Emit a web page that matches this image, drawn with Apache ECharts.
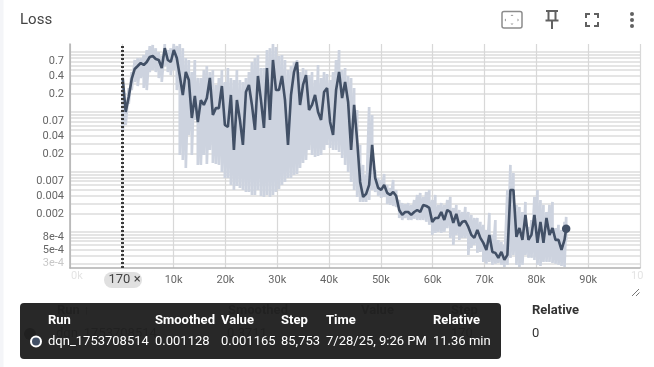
<!DOCTYPE html>
<html>
<head>
<meta charset="utf-8">
<style>html,body{margin:0;padding:0;background:#fff}#c{width:654px;height:367px}</style>
<script src="https://cdn.jsdelivr.net/npm/echarts@6/dist/echarts.min.js"></script>
</head>
<body>
<div id="c"></div>
<script>
const title = 'Loss';
const steps = [170,750,1330,1910,2490,3070,3650,4230,4810,5390,
5970,6550,7130,7710,8290,8870,9450,10030,10610,11190,
11770,12350,12930,13510,14090,14670,15250,15830,16410,16990,
17570,18150,18730,19310,19890,20470,21050,21630,22210,22790,
23370,23950,24530,25110,25690,26270,26850,27430,28010,28590,
29170,29750,30330,30910,31490,32070,32650,33230,33810,34390,
34970,35550,36130,36710,37290,37870,38450,39030,39610,40190,
40770,41350,41930,42510,43090,43670,44250,44830,45410,45990,
46570,47150,47730,48310,48890,49470,50050,50630,51210,51790,
52370,52950,53530,54110,54690,55270,55850,56430,57010,57590,
58170,58750,59330,59910,60490,61070,61650,62230,62810,63390,
63970,64550,65130,65710,66290,66870,67450,68030,68610,69190,
69770,70350,70930,71510,72090,72670,73250,73830,74410,74990,
75570,76150,76730,77310,77890,78470,79050,79630,80210,80790,
81370,81950,82530,83110,83690,84270,84850,85430,85753];
const smoothed = [0.3711,0.1,0.178,0.355,0.521,0.584,0.656,0.607,0.681,0.825,
0.858,0.765,0.736,0.541,1.16,0.736,0.681,1.08,0.794,0.398,
0.192,0.464,0.341,0.0794,0.185,0.0681,0.158,0.131,0.171,0.369,
0.0891,0.116,0.116,0.271,0.0607,0.0562,0.192,0.0232,0.158,0.0736,
0.0282,0.215,0.282,0.131,0.0501,0.398,0.158,0.0541,0.541,0.0736,
0.736,0.232,0.232,0.398,0.158,0.0282,0.192,0.464,0.681,0.131,
0.282,0.413,0.108,0.131,0.192,0.1,0.0736,0.215,0.251,0.0681,
0.0413,0.232,0.464,0.171,0.316,0.147,0.0232,0.131,0.0341,0.00681,
0.00383,0.0043,0.00607,0.0282,0.00794,0.00541,0.00501,0.00607,0.00447,0.00413,
0.00464,0.00398,0.00232,0.00192,0.00215,0.00215,0.00192,0.00215,0.00232,0.00215,
0.00282,0.00271,0.00251,0.00147,0.00171,0.00171,0.00215,0.00158,0.00232,0.00215,
0.00141,0.002,0.00126,0.00147,0.00152,0.00121,0.000891,0.000794,0.00108,0.000794,
0.000656,0.000501,0.000891,0.000464,0.000447,0.000369,0.000464,0.000341,0.000413,0.00501,
0.00501,0.000825,0.00116,0.000736,0.00192,0.000736,0.000891,0.00192,0.000656,0.00147,
0.000656,0.00171,0.000891,0.00116,0.000736,0.000736,0.000501,0.000736,0.001128];
const rawHigh = [0.369,0.158,0.251,0.464,0.736,0.794,0.794,0.891,1.08,1.26,
1.31,1.16,1.0,0.858,1.36,1.08,1.16,1.36,1.26,1.36,
1.16,0.794,0.736,0.464,0.736,0.369,0.369,0.501,0.584,0.464,
0.501,0.282,0.369,0.501,0.316,0.541,0.369,0.341,0.501,0.341,
0.316,0.369,0.464,0.681,0.794,0.891,0.541,0.541,1.08,1.16,
1.36,1.21,0.858,0.891,0.736,0.501,0.584,0.681,0.736,0.464,
0.541,0.501,0.413,0.464,0.341,0.607,0.369,0.464,0.43,0.341,
0.464,0.736,1.08,0.501,0.541,0.398,0.369,0.251,0.108,0.0282,
0.0131,0.00891,0.121,0.0891,0.0108,0.00794,0.00736,0.00926,0.00607,0.00541,
0.00736,0.00501,0.00341,0.00304,0.00293,0.00304,0.00282,0.00341,0.00413,0.00447,
0.00383,0.00464,0.00501,0.00341,0.00413,0.00282,0.00304,0.00282,0.00341,0.00383,
0.00251,0.00282,0.00232,0.00215,0.00261,0.00215,0.00192,0.00171,0.00171,0.00147,
0.00131,0.00108,0.00207,0.000891,0.00158,0.000736,0.000681,0.000607,0.00501,0.0131,
0.00962,0.00282,0.00261,0.00215,0.00316,0.00121,0.00158,0.00383,0.00501,0.00341,
0.00282,0.00215,0.00282,0.00316,0.00116,0.00131,0.00108,0.00147,0.00178];
const rawLow = [0.0483,0.0607,0.136,0.232,0.316,0.271,0.369,0.251,0.232,0.464,
0.501,0.464,0.369,0.316,0.584,0.464,0.413,0.501,0.232,0.0192,
0.0158,0.0116,0.0413,0.0192,0.0736,0.0131,0.0131,0.0192,0.0136,0.0232,
0.0141,0.0136,0.0131,0.01,0.00794,0.00794,0.00607,0.00501,0.00584,0.00541,
0.00501,0.00464,0.00464,0.00413,0.00413,0.00501,0.00398,0.00383,0.00413,0.00383,
0.00413,0.00464,0.00521,0.00607,0.00681,0.00794,0.00794,0.00891,0.00926,0.0116,
0.0141,0.0158,0.0232,0.0192,0.0178,0.0185,0.0192,0.0232,0.0282,0.0251,
0.0232,0.0232,0.0215,0.0171,0.0131,0.01,0.00681,0.00501,0.00383,0.00316,
0.00316,0.00316,0.00341,0.00501,0.00464,0.00398,0.00369,0.00383,0.00293,0.00282,
0.00271,0.00261,0.00171,0.00158,0.00171,0.00158,0.00158,0.00165,0.00158,0.00158,
0.00158,0.00147,0.00131,0.000891,0.000962,0.001,0.000962,0.001,0.00116,0.000794,
0.000607,0.000891,0.000736,0.000794,0.000794,0.000413,0.000541,0.000607,0.000447,0.000464,
0.000316,0.000293,0.000316,0.000282,0.000293,0.000304,0.000282,0.000261,0.000282,0.000369,
0.000413,0.000282,0.000261,0.000282,0.000413,0.000369,0.000369,0.000341,0.000282,0.000271,
0.000316,0.000316,0.000316,0.000304,0.000293,0.000282,0.000271,0.000261,0.000736];
const yLabelValues = [0.7,0.4,0.2,0.07,0.04,0.02,0.007,0.004,0.002,0.0008,0.0005,0.0003];
const yLabelTexts = ['0.7','0.4','0.2','0.07','0.04','0.02','0.007','0.004','0.002','8e-4','5e-4','3e-4'];
const yGridValues = [1,0.9,0.8,0.7,0.6,0.5,0.4,0.3,0.2,0.1,0.09,0.08,0.07,0.06,0.05,0.04,0.03,0.02,0.01,0.009,0.008,0.007,0.006,0.005,0.004,0.003,0.002,0.001,0.0009,0.0008,0.0007,0.0006,0.0005,0.0004,0.0003];
const selectedStep = 170;
const tableHead = ['Run','Smoothed','Value','Step','Time','Relative'];
const tableRow = ['dqn_1753708514','0.001128','0.001165','85,753','7/28/25, 9:26 PM','11.36 min'];
const tableX = [48,155,221,281,326,433];

const FONT='Roboto';
const rawPath=[];
steps.forEach((s,i)=>{ rawPath.push([s,rawHigh[i]],[s,rawLow[i]]); });

const txt=(x,y,t,o)=>({type:'text',x,y,silent:true,z:o.z||10,style:Object.assign({text:t,font:(o.weight||'400')+' '+(o.size||13)+'px '+FONT,fill:o.fill||'#212121',textVerticalAlign:'middle',textAlign:o.align||'left',opacity:o.opacity==null?1:o.opacity})});
const ln=(x1,y1,x2,y2,c,w)=>({type:'line',z:10,silent:true,shape:{x1,y1,x2,y2},style:{stroke:c,lineWidth:w}});

const graphics=[
 {type:'rect',z:1,silent:true,shape:{x:0,y:0,width:3.5,height:367},style:{fill:'#f4f5f8'}},
 txt(20,20.5,title,{size:15,fill:'#444'}),
 {type:'rect',z:10,silent:true,shape:{x:502,y:11.5,width:20,height:16.5,r:2},style:{fill:'none',stroke:'#8c8c8c',lineWidth:1.5}},
 {type:'polygon',z:10,silent:true,shape:{points:[[512,14.5],[510.5,16],[513.5,16]]},style:{fill:'#999'}},
 {type:'polygon',z:10,silent:true,shape:{points:[[512,25],[510.5,23.5],[513.5,23.5]]},style:{fill:'#999'}},
 {type:'polygon',z:10,silent:true,shape:{points:[[504.5,20],[506,18.5],[506,21.5]]},style:{fill:'#999'}},
 {type:'polygon',z:10,silent:true,shape:{points:[[519,20],[517.5,18.5],[517.5,21.5]]},style:{fill:'#999'}},
 ln(546,11,558,11,'#616161',2),ln(548.5,11,548.5,20,'#616161',2),ln(555.5,11,555.5,20,'#616161',2),ln(545.5,20.5,558.5,20.5,'#616161',2),ln(552,20,552,29,'#616161',2),
 ln(585,14,590,14,'#616161',2),ln(586,14,586,18,'#616161',2),ln(594,14,599,14,'#616161',2),ln(598,14,598,18,'#616161',2),
 ln(585,26,590,26,'#616161',2),ln(586,22,586,26,'#616161',2),ln(594,26,599,26,'#616161',2),ln(598,22,598,26,'#616161',2),
 {type:'circle',z:10,silent:true,shape:{cx:632,cy:14,r:2},style:{fill:'#616161'}},
 {type:'circle',z:10,silent:true,shape:{cx:632,cy:20,r:2},style:{fill:'#616161'}},
 {type:'circle',z:10,silent:true,shape:{cx:632,cy:26,r:2},style:{fill:'#616161'}},
 txt(71,276,'0k',{fill:'#666',opacity:0.18,size:11}),
 txt(631,276,'10',{fill:'#666',opacity:0.18,size:11}),
 {type:'rect',z:10,silent:true,shape:{x:104,y:272,width:38,height:16,r:8},style:{fill:'#e0e0e0'}},
 txt(108.5,280,'170 ×',{size:13,fill:'#444'}),
 ln(632,296,639,289,'#777',1),ln(636,296,639.5,292.5,'#777',1),
 txt(57,311,'Run ↑',{weight:'700'}),txt(228,311,'Smoothed',{weight:'700'}),txt(361,311,'Value',{weight:'700'}),txt(451,311,'Step',{weight:'700'}),txt(532,311,'Relative',{weight:'700',fill:'#333'}),
 {type:'circle',z:10,silent:true,shape:{cx:30,cy:334,r:6},style:{fill:'#000'}},
 txt(56,334,'dqn_1753708514',{}),txt(227,334,'0.3711',{}),txt(451,334,'170',{}),txt(532,334,'0',{fill:'#333'}),
 {type:'rect',z:20,silent:true,shape:{x:20,y:303,width:481,height:56,r:4},style:{fill:'rgba(33,33,33,0.97)'}},
 {type:'circle',z:21,silent:true,shape:{cx:36,cy:341.5,r:5},style:{fill:'#425066',stroke:'#fff',lineWidth:2}},
];
tableHead.forEach((t,i)=>{const e=txt(tableX[i],320.5,t,{weight:'700',fill:'#fff'});e.z=21;graphics.push(e);});
tableRow.forEach((t,i)=>{const e=txt(tableX[i],341.5,t,{fill:'#fff'});e.z=21;graphics.push(e);});

const chart=echarts.init(document.getElementById('c'),null,{renderer:'canvas'});
chart.setOption({
 animation:false,
 backgroundColor:'#fff',
 textStyle:{fontFamily:FONT},
 grid:{left:70,right:14,top:44,bottom:99,containLabel:false},
 xAxis:{type:'value',min:-10000,max:100000,interval:10000,
  axisLine:{show:true,onZero:false,lineStyle:{color:'#b0b0b0',width:1.5}},axisTick:{show:false},
  axisLabel:{color:'#666',fontSize:11,margin:7,showMinLabel:false,showMaxLabel:false,formatter:v=>(v===0?'':(v/1000)+'k')},
  splitLine:{show:true,lineStyle:{color:'#d8d8d8',width:1.2}}},
 yAxis:{type:'log',logBase:10,min:0.00025,max:1.36,
  axisLine:{show:true,onZero:false,lineStyle:{color:'#b0b0b0',width:1.5}},
  axisTick:{show:false,customValues:yGridValues},
  axisLabel:{color:v=>(v<0.0004?'#c8c8c8':'#666'),fontSize:11,margin:6,padding:[3,0,0,0],customValues:yLabelValues,
    formatter:v=>{let b=0,d=1e9;yLabelValues.forEach((x,i)=>{const e=Math.abs(Math.log(x)-Math.log(v));if(e<d){d=e;b=i;}});return yLabelTexts[b];}},
  splitLine:{show:true,lineStyle:{color:'#dcdcdc',width:1.5}}},
 series:[
  {type:'line',name:'raw',data:rawPath,showSymbol:false,silent:true,z:3,lineStyle:{color:'#cdd3df',width:2.7,join:'bevel',cap:'butt'},
   markLine:{silent:true,symbol:'none',animation:false,label:{show:false},z:6,lineStyle:{color:'#3a3a3a',type:[2,2],width:3},data:[{xAxis:selectedStep}]}},
  {type:'line',name:'dqn_1753708514',data:steps.map((s,i)=>[s,smoothed[i]]),showSymbol:false,silent:true,z:4,lineStyle:{color:'#425066',width:2.6},
   markPoint:{silent:true,symbol:'circle',symbolSize:8.5,animation:false,label:{show:false},itemStyle:{color:'#425066'},data:[{coord:[steps[steps.length-1],smoothed[smoothed.length-1]]}]}}
 ],
 graphic:{elements:graphics}
});
</script>
</body>
</html>
